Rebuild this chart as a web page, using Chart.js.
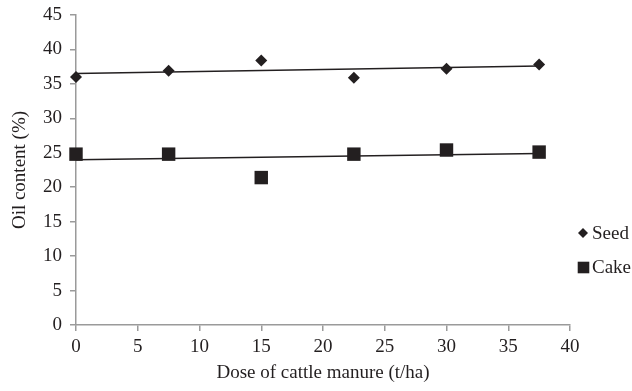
<!DOCTYPE html>
<html>
<head>
<meta charset="utf-8">
<script src="https://cdn.jsdelivr.net/npm/chart.js@4/dist/chart.umd.min.js"></script>
<style>
  html, body { margin: 0; padding: 0; background: #fff; }
  #wrap { width: 632px; height: 391px; position: relative; }
</style>
</head>
<body>
<div id="wrap"><canvas id="c" width="632" height="391"></canvas></div>
<script>
// ---- data ----
const doses = [0, 7.5, 15, 22.5, 30, 37.5];
const seedOil = [36.0, 36.9, 38.4, 35.9, 37.2, 37.8];
const cakeOil = [24.8, 24.8, 21.4, 24.8, 25.4, 25.1];
const trendX = [0, 37.5];
const seedTrend = [36.5, 37.6];
const cakeTrend = [24.0, 24.9];
const seriesNames = ['Seed', 'Cake'];
const xTitle = 'Dose of cattle manure (t/ha)';
const yTitle = 'Oil content (%)';

const ink = '#231f20';
const axisGray = '#9a9a9a';
const serif = "'Liberation Serif', 'Times New Roman', serif";
const fs = 19;

const pts = (xs, ys) => xs.map((x, i) => ({ x: x, y: ys[i] }));

const legendPlugin = {
  id: 'sideLegend',
  afterDraw(chart) {
    const ctx = chart.ctx;
    const items = [
      { label: seriesNames[0], style: 'rectRot', r: 5, cx: 583, y: 233 },
      { label: seriesNames[1], style: 'rect', r: 8.2, cx: 583.5, y: 267.5 }
    ];
    ctx.save();
    ctx.font = fs + 'px ' + serif;
    ctx.textBaseline = 'middle';
    ctx.textAlign = 'left';
    items.forEach(it => {
      ctx.fillStyle = ink;
      ctx.strokeStyle = ink;
      ctx.lineWidth = 0;
      Chart.helpers.drawPoint(ctx, { pointStyle: it.style, radius: it.r, borderWidth: 0 }, it.cx, it.y);
      ctx.fillStyle = ink;
      ctx.fillText(it.label, 592, it.y + 1);
    });
    ctx.restore();
  }
};

new Chart(document.getElementById('c'), {
  type: 'scatter',
  data: {
    datasets: [
      {
        label: seriesNames[0],
        data: pts(doses, seedOil),
        pointStyle: 'rectRot',
        pointRadius: 6,
        backgroundColor: ink,
        borderColor: ink,
        borderWidth: 0,
        showLine: false,
        clip: false,
        order: 1
      },
      {
        label: seriesNames[1],
        data: pts(doses, cakeOil),
        pointStyle: 'rect',
        pointRadius: 9.5,
        backgroundColor: ink,
        borderColor: ink,
        borderWidth: 0,
        showLine: false,
        clip: false,
        order: 1
      },
      {
        label: 'Seed trend',
        data: pts(trendX, seedTrend),
        showLine: true,
        pointRadius: 0,
        borderColor: ink,
        borderWidth: 1.5,
        fill: false,
        clip: false,
        order: 2
      },
      {
        label: 'Cake trend',
        data: pts(trendX, cakeTrend),
        showLine: true,
        pointRadius: 0,
        borderColor: ink,
        borderWidth: 1.5,
        fill: false,
        clip: false,
        order: 2
      }
    ]
  },
  options: {
    responsive: false,
    animation: false,
    devicePixelRatio: 1,
    layout: { padding: { left: 0, right: 62, top: 15, bottom: 0 } },
    plugins: {
      legend: { display: false },
      tooltip: { enabled: false }
    },
    scales: {
      x: {
        type: 'linear',
        min: 0, max: 40,
        ticks: { stepSize: 5, color: ink, font: { family: serif, size: fs }, padding: 5, maxRotation: 0 },
        grid: { drawOnChartArea: false, drawTicks: true, tickLength: 6, color: axisGray, lineWidth: 1.5 },
        border: { color: axisGray, width: 1.5 },
        title: { display: true, text: xTitle, color: ink, font: { family: serif, size: fs }, padding: { top: 4, bottom: 7 } },
        afterFit(s) { s.height = 66; }
      },
      y: {
        type: 'linear',
        min: 0, max: 45,
        ticks: { stepSize: 5, color: ink, font: { family: serif, size: fs }, padding: 8 },
        grid: { drawOnChartArea: false, drawTicks: true, tickLength: 6, color: axisGray, lineWidth: 1.5 },
        border: { color: axisGray, width: 1.5 },
        title: { display: true, text: yTitle, color: ink, font: { family: serif, size: fs }, padding: { top: 9, bottom: 4 } },
        afterFit(s) { s.width = 76; s.paddingTop = 0; }
      }
    }
  },
  plugins: [legendPlugin]
});
</script>
</body>
</html>
